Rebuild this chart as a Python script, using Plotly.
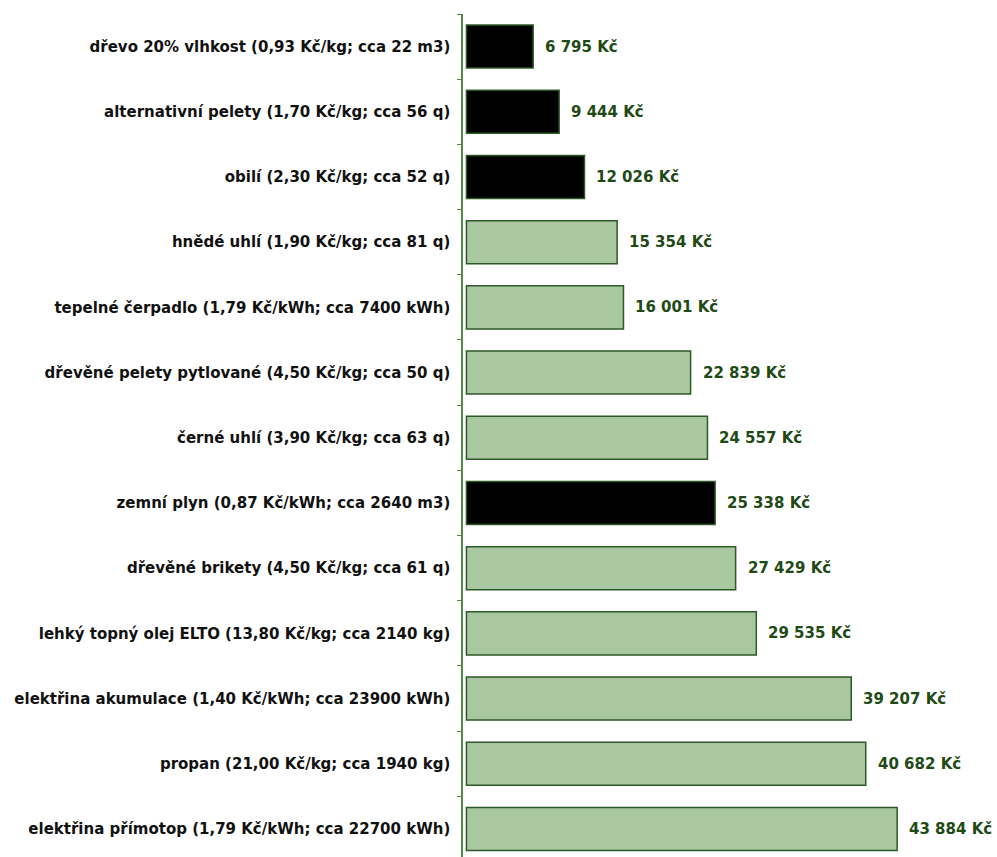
import plotly.graph_objects as go

# Annual heating cost by fuel type (Kč)
categories = [
    "dřevo 20% vlhkost (0,93 Kč/kg; cca 22 m3)",
    "alternativní pelety (1,70 Kč/kg; cca 56 q)",
    "obilí (2,30 Kč/kg; cca 52 q)",
    "hnědé uhlí (1,90 Kč/kg; cca 81 q)",
    "tepelné čerpadlo (1,79 Kč/kWh; cca 7400 kWh)",
    "dřevěné pelety pytlované (4,50 Kč/kg; cca 50 q)",
    "černé uhlí (3,90 Kč/kg; cca 63 q)",
    "zemní plyn (0,87 Kč/kWh; cca 2640 m3)",
    "dřevěné brikety (4,50 Kč/kg; cca 61 q)",
    "lehký topný olej ELTO (13,80 Kč/kg; cca 2140 kg)",
    "elektřina akumulace (1,40 Kč/kWh; cca 23900 kWh)",
    "propan (21,00 Kč/kg; cca 1940 kg)",
    "elektřina přímotop (1,79 Kč/kWh; cca 22700 kWh)",
]
costs = [6795, 9444, 12026, 15354, 16001, 22839, 24557, 25338, 27429, 29535, 39207, 40682, 43884]
highlighted = [
    "dřevo 20% vlhkost (0,93 Kč/kg; cca 22 m3)",
    "alternativní pelety (1,70 Kč/kg; cca 56 q)",
    "obilí (2,30 Kč/kg; cca 52 q)",
    "zemní plyn (0,87 Kč/kWh; cca 2640 m3)",
]

DARK_GREEN = "#2c5a26"
LIGHT_GREEN = "#a9c7a0"
AXIS_GREEN = "#4f8a40"
LABEL_GREEN = "#1f4a16"
FONT = "Verdana, DejaVu Sans, sans-serif"

colors = ["#000000" if c in highlighted else LIGHT_GREEN for c in categories]


def fmt(v):
    return f"{v:,}".replace(",", " ") + " Kč"


fig = go.Figure(
    go.Bar(
        x=costs,
        y=categories,
        orientation="h",
        marker=dict(color=colors, line=dict(color=DARK_GREEN, width=1.5)),
        hoverinfo="x+y",
    )
)

for c, v in zip(categories, costs):
    fig.add_annotation(
        x=v, y=c, text=fmt(v), showarrow=False, xanchor="left", xshift=10,
        font=dict(family=FONT, size=15, color=LABEL_GREEN, weight="bold"),
    )

fig.update_layout(
    width=997,
    height=857,
    margin=dict(l=463, r=0, t=14, b=0),
    plot_bgcolor="white",
    paper_bgcolor="white",
    bargap=0.34,
    showlegend=False,
    xaxis=dict(range=[-350, 54057], visible=False, showgrid=False, zeroline=False),
    yaxis=dict(
        type="category",
        categoryarray=categories,
        range=[12.43, -0.5],
        showline=True,
        linecolor=AXIS_GREEN,
        linewidth=1.5,
        ticks="outside",
        ticklen=4,
        tickcolor=AXIS_GREEN,
        tickson="boundaries",
        ticklabelstandoff=8,
        showgrid=False,
        tickfont=dict(family=FONT, size=15, color="#111111", weight="bold"),
    ),
)

fig.write_html("out.html")
